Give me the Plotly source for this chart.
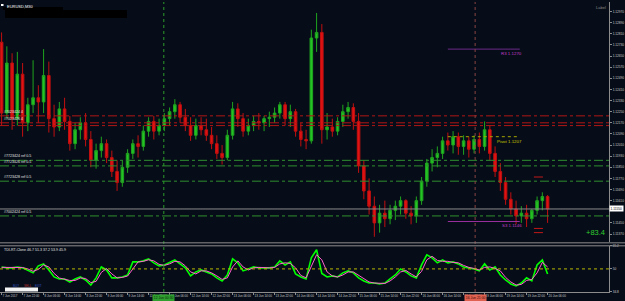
import plotly.graph_objects as go

# ---------------- data (EURUSD, aggregated bars) ----------------
bars = list(range(105))

open_ = [1.1275,1.1224,1.1260,1.1220,1.1252,1.1217,1.1230,1.1235,1.1232,1.1251,
         1.1220,1.1214,1.1227,1.1218,1.1202,1.1212,1.1217,1.1205,1.1190,1.1197,
         1.1202,1.1192,1.1182,1.1174,1.1185,1.1195,1.1202,1.1200,1.1211,1.1218,
         1.1211,1.1215,1.1220,1.1225,1.1230,1.1221,1.1215,1.1208,1.1215,1.1212,
         1.1208,1.1202,1.1195,1.1192,1.1208,1.1227,1.1220,1.1211,1.1215,1.1218,
         1.1217,1.1220,1.1221,1.1224,1.1230,1.1220,1.1225,1.1211,1.1205,1.1204,
         1.1278,1.1282,1.1212,1.1214,1.1211,1.1218,1.1225,1.1228,1.1218,1.1186,
         1.1168,1.1157,1.1145,1.1152,1.1148,1.1154,1.1157,1.1161,1.1152,1.1150,
         1.1161,1.1175,1.1188,1.1192,1.1195,1.1204,1.1201,1.1207,1.1200,1.1204,
         1.1198,1.1205,1.1200,1.1212,1.1195,1.1182,1.1174,1.1162,1.1155,1.1150,
         1.1152,1.1148,1.1154,1.1161,1.1164]

high = [1.1282,1.1272,1.1267,1.1268,1.1260,1.1235,1.1262,1.1244,1.1270,1.1261,
        1.1230,1.1232,1.1235,1.1222,1.1217,1.1221,1.1224,1.1211,1.1202,1.1207,
        1.1205,1.1197,1.1190,1.1190,1.1198,1.1205,1.1208,1.1215,1.1221,1.1222,
        1.1220,1.1224,1.1228,1.1234,1.1232,1.1227,1.1221,1.1220,1.1221,1.1220,
        1.1214,1.1208,1.1201,1.1212,1.1232,1.1231,1.1224,1.1220,1.1222,1.1224,
        1.1222,1.1225,1.1228,1.1232,1.1232,1.1230,1.1227,1.1217,1.1212,1.1284,
        1.1296,1.1288,1.1224,1.1220,1.1221,1.1230,1.1232,1.1231,1.1224,1.1190,
        1.1177,1.1164,1.1158,1.1161,1.1158,1.1161,1.1164,1.1162,1.1157,1.1164,
        1.1178,1.1191,1.1198,1.1200,1.1207,1.1210,1.1211,1.1210,1.1208,1.1207,
        1.1208,1.1210,1.1218,1.1215,1.1200,1.1188,1.1178,1.1167,1.1161,1.1157,
        1.1158,1.1155,1.1164,1.1167,1.1165]

low = [1.1215,1.1220,1.1212,1.1215,1.1207,1.1211,1.1224,1.1217,1.1224,1.1210,
       1.1207,1.1211,1.1212,1.1197,1.1198,1.1205,1.1200,1.1185,1.1184,1.1192,
       1.1188,1.1178,1.1168,1.1171,1.1181,1.1191,1.1192,1.1197,1.1207,1.1205,
       1.1208,1.1211,1.1215,1.1220,1.1217,1.1211,1.1204,1.1205,1.1208,1.1204,
       1.1198,1.1191,1.1187,1.1190,1.1205,1.1214,1.1207,1.1208,1.1211,1.1212,
       1.1211,1.1214,1.1217,1.1220,1.1215,1.1214,1.1207,1.1200,1.1198,1.1202,
       1.1268,1.1202,1.1205,1.1207,1.1208,1.1214,1.1220,1.1212,1.1181,1.1162,
       1.1151,1.1135,1.1138,1.1142,1.1144,1.1147,1.1151,1.1148,1.1144,1.1145,
       1.1158,1.1171,1.1182,1.1185,1.1191,1.1197,1.1195,1.1194,1.1194,1.1192,
       1.1195,1.1195,1.1197,1.1190,1.1178,1.1168,1.1158,1.1151,1.1144,1.1145,
       1.1142,1.1145,1.1151,1.1154,1.1145]

close = [1.1224,1.1260,1.1220,1.1252,1.1217,1.1230,1.1235,1.1232,1.1251,1.1220,
         1.1214,1.1227,1.1218,1.1202,1.1212,1.1217,1.1205,1.1190,1.1197,1.1202,
         1.1192,1.1182,1.1174,1.1185,1.1195,1.1202,1.1200,1.1211,1.1218,1.1211,
         1.1215,1.1220,1.1225,1.1230,1.1221,1.1215,1.1208,1.1215,1.1212,1.1208,
         1.1202,1.1195,1.1192,1.1208,1.1227,1.1220,1.1211,1.1215,1.1218,1.1217,
         1.1220,1.1221,1.1224,1.1230,1.1220,1.1225,1.1211,1.1205,1.1204,1.1278,
         1.1282,1.1212,1.1214,1.1211,1.1218,1.1225,1.1228,1.1218,1.1186,1.1168,
         1.1157,1.1145,1.1152,1.1148,1.1154,1.1157,1.1161,1.1152,1.1150,1.1161,
         1.1175,1.1188,1.1192,1.1195,1.1204,1.1201,1.1207,1.1200,1.1204,1.1198,
         1.1205,1.1200,1.1212,1.1195,1.1182,1.1174,1.1162,1.1155,1.1150,1.1152,
         1.1148,1.1154,1.1161,1.1164,1.1155]

tdi_green = [51.3,50.7,50.7,51.3,50.7,49.3,47.4,52.0,53.3,49.3,
             44.7,43.4,43.4,41.4,43.4,44.7,42.7,39.4,44.1,51.3,
             49.3,44.1,44.1,44.7,46.0,54.6,54.6,55.3,56.6,54.0,
             52.0,52.6,54.0,55.9,53.3,50.7,45.4,48.0,49.3,48.0,
             46.7,44.1,42.1,46.0,56.6,54.0,48.7,50.0,51.3,50.7,
             50.7,50.7,51.3,55.3,52.6,54.6,46.7,44.7,43.4,57.3,
             62.6,47.0,44.7,45.4,44.7,47.4,48.7,47.4,44.1,42.1,
             40.7,40.7,40.1,40.7,43.4,46.0,50.0,48.0,45.4,44.1,
             52.6,59.3,57.3,54.0,55.9,54.0,54.6,53.3,51.3,50.7,
             50.0,48.7,53.3,49.3,51.3,46.0,42.7,40.1,38.8,40.7,
             44.1,42.1,52.6,55.9,46.7]

tdi_pink = [51.0,51.0,50.8,51.0,50.9,50.0,48.4,49.7,52.6,51.3,
            47.0,44.0,43.4,42.4,42.4,44.0,43.7,41.0,41.8,47.7,
            50.3,46.7,44.1,44.4,45.3,50.3,54.6,55.0,56.0,55.3,
            53.0,52.3,53.3,55.0,54.6,52.0,48.0,46.7,48.7,48.7,
            47.4,45.4,43.1,44.1,51.3,55.3,51.3,49.3,50.7,51.0,
            50.7,50.7,51.0,53.3,54.0,53.6,50.7,45.7,44.1,52.0,
            59.3,56.0,48.0,45.4,44.7,46.0,48.0,48.0,45.7,43.1,
            41.4,40.7,40.4,40.4,42.1,44.7,48.0,49.0,46.7,44.7,
            48.4,56.0,58.3,55.6,55.0,55.0,54.3,54.0,52.3,51.0,
            50.3,49.3,51.0,51.3,50.3,48.7,44.4,41.4,39.4,39.8,
            42.4,43.1,47.4,54.3,51.3]

tick_bars = list(range(0, 105, 4))
tick_text = ["7 Jun 2017", "7 Jun 22:00", "8 Jun 06:00", "8 Jun 14:00", "8 Jun 22:00",
             "9 Jun 06:00", "9 Jun 14:00", "11 Jun 23:00", "12 Jun 06:00", "12 Jun 14:00",
             "12 Jun 22:00", "13 Jun 06:00", "13 Jun 14:00", "13 Jun 22:00", "14 Jun 06:00",
             "14 Jun 14:00", "14 Jun 22:00", "15 Jun 06:00", "15 Jun 14:00", "15 Jun 22:00",
             "16 Jun 06:00", "16 Jun 14:00", "16 Jun 22:00", "19 Jun 06:00", "19 Jun 14:00",
             "19 Jun 22:00", "20 Jun 06:00"]

price_ticks = [1.1297, 1.1289, 1.1281, 1.1273, 1.1265, 1.1257, 1.1249, 1.1241, 1.1233,
               1.1225, 1.1217, 1.1209, 1.1201, 1.1193, 1.1185, 1.1177, 1.1169, 1.1161,
               1.1145, 1.1137]
osc_ticks = [34.8, 50.0, 65.2]

red_levels = [1.1222, 1.1217, 1.1215]
red_labels = ["#7023424 4", "#7023426 4", ""]
green_levels = [1.1190, 1.1186, 1.1175, 1.1150]
green_labels = ["#7723424 ref 0.5", "#7723426 ref 0.5", "#7723428 ref 0.5", "#7002424 ref 0.5"]

pivot_names = ["R3", "Pivot", "S3"]
pivot_values = [1.1270, 1.1207, 1.1146]
target_levels = [1.1178, 1.1141, 1.1138]
green_vline_bar = 30.9
red_vline_bar = 90.2
green_vline_text = "12 Jun 00:30"
red_vline_text = "16 Jun 21:00"
profit_text = "+83.4"
osc_label = "TDI-RT-Clone 46.7 51.3 37.2 53.9 45.9"

# ---------------- styling / layout ----------------
BG = "#070d18"
AX = "#8c8c8c"
FONT = "Liberation Sans"
PLOT_H = 292.0
PLOT_W = 609.0
XR = [-0.3, 115.7]
YR = [1.1131, 1.13039]


def pyp(ypx):
    return 1 - ypx / PLOT_H


def pxp(xpx):
    return xpx / PLOT_W


fig = go.Figure()
fig.add_trace(go.Candlestick(
    x=bars, open=open_, high=high, low=low, close=close,
    xaxis="x", yaxis="y", whiskerwidth=0, hoverinfo="skip",
    increasing=dict(line=dict(color="#1fa31f", width=1), fillcolor="#24c424"),
    decreasing=dict(line=dict(color="#c01010", width=1), fillcolor="#e01212"),
    showlegend=False))
fig.add_trace(go.Scatter(x=bars, y=tdi_green, xaxis="x2", yaxis="y2", mode="lines",
                         line=dict(color="#00ff00", width=1.6), hoverinfo="skip"))
fig.add_trace(go.Scatter(x=bars, y=tdi_pink, xaxis="x2", yaxis="y2", mode="lines",
                         line=dict(color="#ff5fcf", width=1), hoverinfo="skip"))

shapes = []
annots = []

# level lines
for v, lab in zip(red_levels, red_labels):
    shapes.append(dict(type="line", xref="paper", x0=0, x1=1, yref="y", y0=v, y1=v,
                       line=dict(color="#b01616", width=1, dash="dashdot")))
    if lab:
        annots.append(dict(xref="paper", x=pxp(2), yref="y", y=v, xanchor="left", yanchor="bottom",
                           text=lab, showarrow=False, font=dict(size=3.6, color="#e6e6e6", family=FONT)))
for v, lab in zip(green_levels, green_labels):
    shapes.append(dict(type="line", xref="paper", x0=0, x1=1, yref="y", y0=v, y1=v,
                       line=dict(color="#2e8e2e", width=1, dash="dashdot")))
    annots.append(dict(xref="paper", x=pxp(2), yref="y", y=v, xanchor="left", yanchor="bottom",
                       text=lab, showarrow=False, font=dict(size=3.6, color="#e6e6e6", family=FONT)))

# bid line
shapes.append(dict(type="line", xref="paper", x0=0, x1=1, yref="y", y0=close[-1], y1=close[-1],
                   line=dict(color="#8a8a8a", width=1)))

# pivot lines
piv_colors = ["#6b2a8a", "#a6a600", "#9a2fa0"]
piv_text_colors = ["#c23cc8", "#c8c800", "#c23cc8"]
piv_dash = ["solid", "dot", "solid"]
for name, v, lc, tc, d in zip(pivot_names, pivot_values, piv_colors, piv_text_colors, piv_dash):
    shapes.append(dict(type="line", xref="x", x0=85.0, x1=98.7, yref="y", y0=v, y1=v,
                       line=dict(color=lc, width=1, dash=d)))
    annots.append(dict(xref="x", x=99.5, yref="y", y=v, xanchor="right", yanchor="top",
                       text=f"{name} {v:.4f}", showarrow=False,
                       font=dict(size=4.4, color=tc, family=FONT)))

# short red target dashes
for v in target_levels:
    shapes.append(dict(type="line", xref="x", x0=101.4, x1=103.9, yref="y", y0=v, y1=v,
                       line=dict(color="#c01818", width=1, dash="dash")))

# vertical dotted lines
shapes.append(dict(type="line", xref="x", x0=green_vline_bar, x1=green_vline_bar, yref="paper", y0=0, y1=1,
                   line=dict(color="#2a9a2a", width=1, dash="dot")))
shapes.append(dict(type="line", xref="x", x0=red_vline_bar, x1=red_vline_bar, yref="paper", y0=0, y1=1,
                   line=dict(color="#8a4444", width=1, dash="dot")))

# panel borders
for ypx in (242.5, 245.5):
    shapes.append(dict(type="line", xref="paper", x0=0, x1=1.03, yref="paper", y0=pyp(ypx), y1=pyp(ypx),
                       line=dict(color=AX, width=1)))

# osc 50 line
shapes.append(dict(type="line", xref="paper", x0=0, x1=1, yref="y2", y0=50, y1=50,
                   line=dict(color="#b8b800", width=1, dash="dot")))

# censor bars & icon at top-left
shapes.append(dict(type="rect", xref="paper", yref="paper", x0=pxp(3), x1=pxp(63), y0=pyp(8), y1=pyp(5),
                   fillcolor="#000000", line=dict(width=0)))
shapes.append(dict(type="rect", xref="paper", yref="paper", x0=pxp(5), x1=pxp(127), y0=pyp(16), y1=pyp(8),
                   fillcolor="#000000", line=dict(width=0)))
shapes.append(dict(type="rect", xref="paper", yref="paper", x0=pxp(1), x1=pxp(3.5), y0=pyp(4), y1=pyp(2),
                   fillcolor="#ffffff", line=dict(width=0)))

# small legend box in oscillator
shapes.append(dict(type="rect", xref="paper", yref="paper", x0=pxp(5), x1=pxp(38), y0=pyp(291.5), y1=pyp(287.5),
                   fillcolor="#f4f4f4", line=dict(width=0)))
for xp, t, c in ((11, "BUY", "#3050c0"), (22, "SELL", "#c03030"), (33, "EXIT", "#3050c0")):
    annots.append(dict(xref="paper", yref="paper", x=pxp(xp), y=pyp(289.5), text=t, showarrow=False,
                       font=dict(size=3, color=c, family=FONT)))

# texts
annots.append(dict(xref="paper", yref="paper", x=pxp(5), y=pyp(0.5), xanchor="left", yanchor="top",
                   text="EURUSD,M30", showarrow=False, font=dict(size=4, color="#ffffff", family=FONT)))
annots.append(dict(xref="paper", yref="paper", x=pxp(608), y=pyp(1), xanchor="right", yanchor="top",
                   text="Label", showarrow=False, font=dict(size=4, color="#8a8a8a", family=FONT)))
annots.append(dict(xref="paper", yref="paper", x=pxp(2), y=pyp(246), xanchor="left", yanchor="top",
                   text=osc_label, showarrow=False, font=dict(size=3.6, color="#e6e6e6", family=FONT)))
annots.append(dict(xref="x", yref="y", x=113.2, y=1.1138, text=profit_text, showarrow=False,
                   font=dict(size=7.5, color="#2fcf2f", family=FONT)))
annots.append(dict(xref="paper", yref="y", x=1.0, y=close[-1], xanchor="left", text=f"{close[-1]:.5f}",
                   showarrow=False, bgcolor="#ffffff", borderpad=0.5,
                   font=dict(size=3.2, color="#000000", family=FONT)))
annots.append(dict(xref="x", yref="paper", x=green_vline_bar, y=0, yanchor="top", yshift=-1.5,
                   text=green_vline_text, showarrow=False, bgcolor="#2f9f2f", borderpad=0.8,
                   font=dict(size=3.4, color="#0a2a0a", family=FONT)))
annots.append(dict(xref="x", yref="paper", x=red_vline_bar, y=0, yanchor="top", yshift=-1.5,
                   text=red_vline_text, showarrow=False, bgcolor="#e0614f", borderpad=0.8,
                   font=dict(size=3.4, color="#3a0a0a", family=FONT)))

fig.update_layout(
    width=625, height=301, margin=dict(l=0, r=16, t=0, b=9),
    paper_bgcolor=BG, plot_bgcolor=BG, showlegend=False, hovermode=False,
    font=dict(family=FONT),
    xaxis=dict(domain=[0, 1], anchor="y", range=XR, showticklabels=False, showgrid=False,
               zeroline=False, ticks="", rangeslider=dict(visible=False), showline=False),
    xaxis2=dict(domain=[0, 1], anchor="y2", matches="x", range=XR, tickmode="array",
                tickvals=tick_bars, ticktext=tick_text, ticklabelposition="outside right",
                tickangle=0, tickfont=dict(size=3.0, color="#c8c8c8", family=FONT),
                ticks="outside", ticklen=2, tickcolor=AX, showline=True, linecolor=AX,
                showgrid=False, zeroline=False),
    yaxis=dict(domain=[1 - 242 / PLOT_H, 1], side="right", range=YR, tickmode="array",
               tickvals=price_ticks, ticktext=[f"{v:.5f}" for v in price_ticks],
               tickfont=dict(size=3.2, color="#c8c8c8", family=FONT), ticks="outside", ticklen=2,
               tickcolor=AX, showline=True, linecolor=AX, showgrid=False, zeroline=False),
    yaxis2=dict(domain=[0, 1 - 245.5 / PLOT_H], side="right", range=[34.8, 65.2], tickmode="array",
                tickvals=osc_ticks, ticktext=["34.8", "50", "65.2"],
                tickfont=dict(size=3.2, color="#c8c8c8", family=FONT), ticks="outside", ticklen=2,
                tickcolor=AX, showline=True, linecolor=AX, showgrid=False, zeroline=False),
    shapes=shapes, annotations=annots,
)

fig.write_html("out.html")
